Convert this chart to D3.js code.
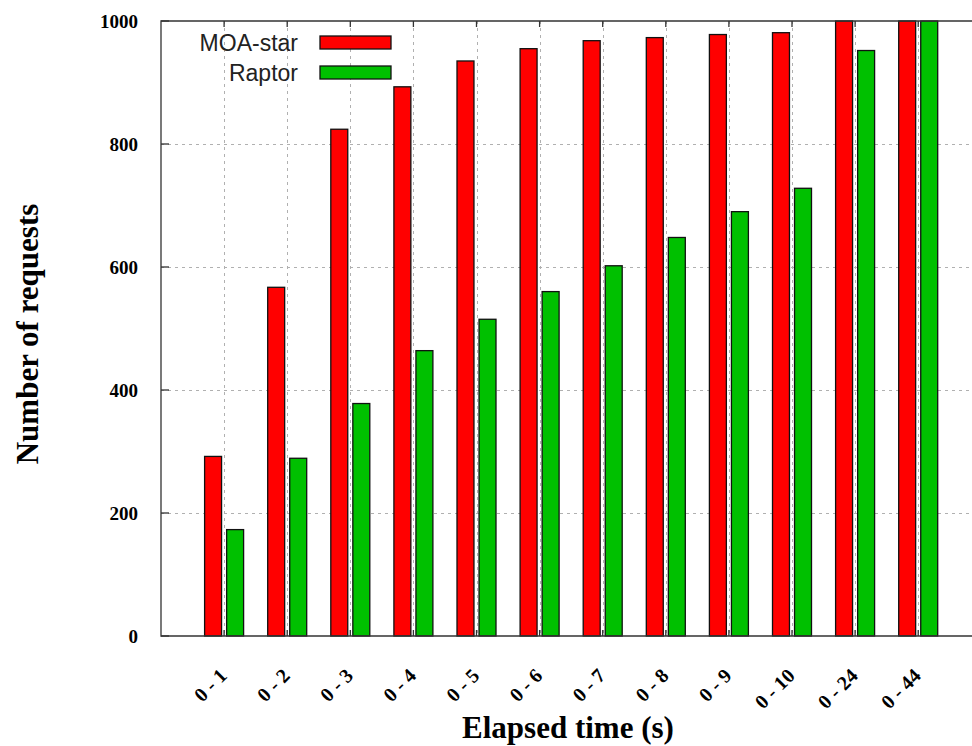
<!DOCTYPE html>
<html>
<head>
<meta charset="utf-8">
<script src="https://cdn.jsdelivr.net/npm/d3@7"></script>
<style>
  body { margin: 0; background: #fff; }
</style>
</head>
<body>
<div id="chart"></div>
<script>
// data
const categories = ["0 - 1", "0 - 2", "0 - 3", "0 - 4", "0 - 5", "0 - 6", "0 - 7", "0 - 8", "0 - 9", "0 - 10", "0 - 24", "0 - 44"];
const moaStar = [292, 567, 824, 893, 935, 955, 968, 973, 978, 981, 1000, 1000];
const raptor = [173, 289, 378, 464, 515, 560, 602, 648, 690, 728, 952, 1000];
const seriesNames = ["MOA-star", "Raptor"];
const seriesColors = ["#ff0000", "#00c000"];
const yTicks = [0, 200, 400, 600, 800, 1000];

function draw() {
    const width = 972;
    const height = 746;
    const left = 161, top = 21, bottom = 636;

    const svg = d3.select("#chart")
        .append("svg")
        .attr("width", width)
        .attr("height", height);

    // one step per category, half a step of padding at each end
    const x = d3.scaleBand()
        .domain(categories)
        .range([left, left + 63.1 * 13])
        .paddingInner(0)
        .paddingOuter(0.5);

    const xSub = d3.scaleBand()
        .domain(seriesNames)
        .range([-19.5, 19.5])
        .paddingInner(0.23);

    const y = d3.scaleLinear()
        .domain([0, 1000])
        .range([bottom, top]);

    const center = c => x(c) + x.bandwidth() / 2;
    const right = x.range()[1];

    // grid
    const grid = svg.append("g")
        .attr("stroke", "#b0b0b0")
        .attr("stroke-width", 1)
        .attr("stroke-dasharray", "3,4");

    grid.selectAll("line.h")
        .data(yTicks.filter(d => d > 0 && d < 1000))
        .join("line")
        .attr("class", "h")
        .attr("x1", left).attr("x2", right)
        .attr("y1", d => Math.round(y(d)) + 0.5)
        .attr("y2", d => Math.round(y(d)) + 0.5);

    grid.selectAll("line.v")
        .data(categories)
        .join("line")
        .attr("class", "v")
        .attr("x1", d => Math.round(center(d)) + 0.5)
        .attr("x2", d => Math.round(center(d)) + 0.5)
        .attr("y1", top).attr("y2", bottom);

    // bars
    const table = categories.map((c, i) => ({ cat: c, values: [moaStar[i], raptor[i]] }));

    svg.append("g")
        .selectAll("g")
        .data(table)
        .join("g")
        .attr("transform", d => `translate(${center(d.cat)},0)`)
        .selectAll("rect")
        .data(d => d.values.map((v, k) => ({ name: seriesNames[k], value: v, color: seriesColors[k] })))
        .join("rect")
        .attr("x", d => xSub(d.name))
        .attr("y", d => y(d.value))
        .attr("width", xSub.bandwidth())
        .attr("height", d => y(0) - y(d.value))
        .attr("fill", d => d.color)
        .attr("stroke", "#111")
        .attr("stroke-width", 1.3);

    // frame
    const frame = svg.append("g")
        .attr("stroke", "#333")
        .attr("stroke-width", 1.3)
        .attr("fill", "none");
    frame.append("path")
        .attr("d", `M${right},${top}H${left}V${bottom}H${right}`);

    // ticks: left, bottom and mirrored top
    frame.selectAll("line.yt")
        .data(yTicks)
        .join("line")
        .attr("class", "yt")
        .attr("x1", left).attr("x2", left + 8)
        .attr("y1", d => y(d)).attr("y2", d => y(d));

    frame.selectAll("line.xb")
        .data(categories)
        .join("line")
        .attr("class", "xb")
        .attr("x1", d => center(d)).attr("x2", d => center(d))
        .attr("y1", bottom).attr("y2", bottom - 6);

    frame.selectAll("line.xt")
        .data(categories)
        .join("line")
        .attr("class", "xt")
        .attr("x1", d => center(d)).attr("x2", d => center(d))
        .attr("y1", top).attr("y2", top + 6);

    // tick labels
    svg.append("g")
        .selectAll("text")
        .data(yTicks)
        .join("text")
        .attr("x", 138)
        .attr("y", d => y(d))
        .attr("dy", "0.35em")
        .attr("text-anchor", "end")
        .style("font-family", "'Liberation Serif', 'DejaVu Serif', serif")
        .style("font-weight", "bold")
        .style("font-size", "19px")
        .text(d => d);

    svg.append("g")
        .selectAll("text")
        .data(categories)
        .join("text")
        .attr("transform", d => `translate(${center(d) + 4},${bottom + 41}) rotate(-45)`)
        .attr("text-anchor", "end")
        .style("font-family", "'Liberation Serif', 'DejaVu Serif', serif")
        .style("font-weight", "bold")
        .style("font-size", "20px")
        .text(d => d);

    // axis titles
    svg.append("text")
        .attr("x", 568)
        .attr("y", 738)
        .attr("text-anchor", "middle")
        .style("font-family", "'Liberation Serif', 'DejaVu Serif', serif")
        .style("font-weight", "bold")
        .style("font-size", "31px")
        .text("Elapsed time (s)");

    svg.append("text")
        .attr("transform", "translate(38,334) rotate(-90)")
        .attr("text-anchor", "middle")
        .style("font-family", "'Liberation Serif', 'DejaVu Serif', serif")
        .style("font-weight", "bold")
        .style("font-size", "31px")
        .text("Number of requests");

    // legend
    const legend = svg.append("g")
        .selectAll("g")
        .data(seriesNames)
        .join("g")
        .attr("transform", (d, i) => `translate(0,${42.5 + i * 30})`);

    legend.append("text")
        .attr("x", 298)
        .attr("dy", "0.35em")
        .attr("text-anchor", "end")
        .style("font-family", "'Liberation Sans', Arial, sans-serif")
        .style("font-size", "23px")
        .style("fill", "#222")
        .text(d => d);

    legend.append("rect")
        .attr("x", 320)
        .attr("y", -6.5)
        .attr("width", 71)
        .attr("height", 13)
        .attr("fill", (d, i) => seriesColors[i])
        .attr("stroke", "#111")
        .attr("stroke-width", 1.3);
}

window.onload = draw;
</script>
</body>
</html>
